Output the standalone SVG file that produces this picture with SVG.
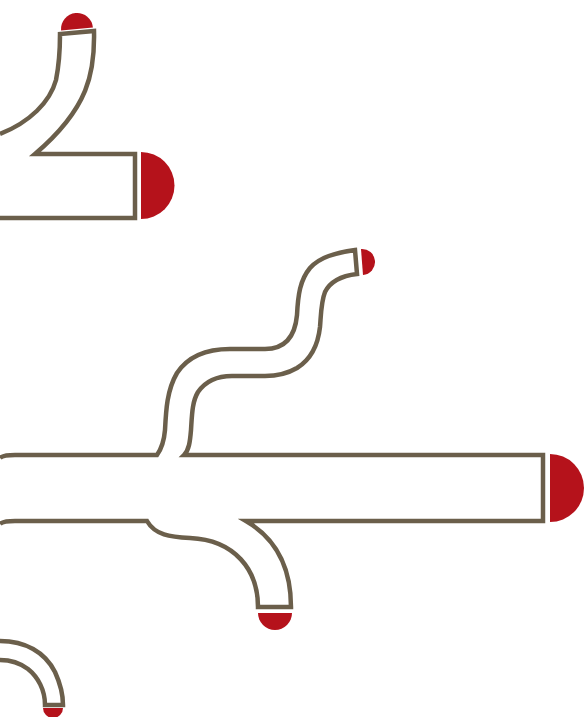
<svg xmlns="http://www.w3.org/2000/svg" width="585" height="717" viewBox="0 0 585 717">
<style>
.tube{fill:#ffffff;stroke:#6b5f4b;stroke-width:4.5;stroke-linejoin:miter}
.cap{fill:#b5121b}
</style>
<rect width="585" height="717" fill="#ffffff"/>
<g id="branch-top-left">
<path class="tube" d="M0,134 C30,122 50,102 56,80 C59,65 60,50 60,34 L94,31 C95,72 89,108 35,154 L135,154 L135,218 L0,218"/>
<path class="cap" d="M61,29 A16,16 0 0 1 93,29 Z" transform="rotate(-5 77 29)"/>
<path class="cap" d="M141,152 A33.5,33.5 0 0 1 141,219 Z"/>
</g>
<g id="trunk-main">
<path class="tube" d="M0,458 Q3,455 15,455 L157,455 C162,448 164,442 165,430 C166,410 167,390 177,373 C187,358 205,349 230,349 L265,349 C285,349 295,337 297,315 C298,295 300,280 310,268 C320,257 335,253 355,250 L357,274 C340,276 330,282 325,292 C321,302 321,315 320,327 C318,345 310,360 297,368 C285,375 275,376 265,376 L232,376 C215,376 205,382 198,392 C192,402 192,415 191,430 C190,442 189,450 184,455 L543,455 L543,521 L246,521 C270,535 291,560 291,607 L258,607 C258,570 235,540 190,538 C170,537 155,535 147,521 L15,521 Q3,521 0,524"/>
<path class="cap" d="M361,249 A13,13 0 0 1 363,275 Z"/>
<path class="cap" d="M550,454 A34,34 0 0 1 550,522 Z"/>
<path class="cap" d="M258,613 A17,17 0 0 0 292,613 Z"/>
</g>
<g id="branch-bottom-left">
<path class="tube" d="M0,641 C25,641 45,652 55,672 C60,683 63,695 63,705 L45,705 C45,690 38,677 28,669 C20,663 10,660 0,660"/>
<path class="cap" d="M43,708 A10,10 0 0 0 63,708 Z"/>
</g>
</svg>
